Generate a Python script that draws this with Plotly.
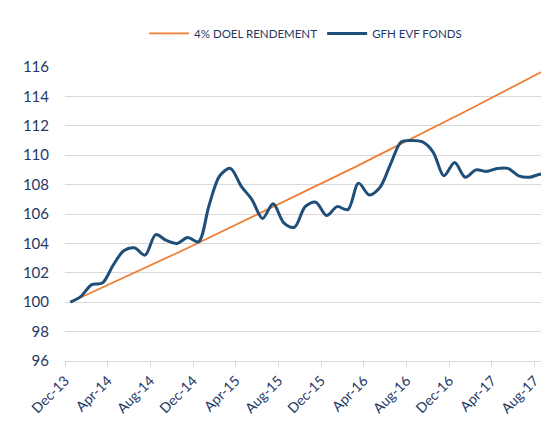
import plotly.graph_objects as go

months = ["Dec-13", "Jan-14", "Feb-14", "Mar-14", "Apr-14", "May-14", "Jun-14", "Jul-14",
          "Aug-14", "Sep-14", "Oct-14", "Nov-14", "Dec-14", "Jan-15", "Feb-15", "Mar-15",
          "Apr-15", "May-15", "Jun-15", "Jul-15", "Aug-15", "Sep-15", "Oct-15", "Nov-15",
          "Dec-15", "Jan-16", "Feb-16", "Mar-16", "Apr-16", "May-16", "Jun-16", "Jul-16",
          "Aug-16", "Sep-16", "Oct-16", "Nov-16", "Dec-16", "Jan-17", "Feb-17", "Mar-17",
          "Apr-17", "May-17", "Jun-17", "Jul-17", "Aug-17", "Sep-17"]

doel = [100.00, 100.33, 100.67, 101.00, 101.33, 101.66, 102.00, 102.34, 102.67, 103.02,
        103.35, 103.69, 104.04, 104.38, 104.72, 105.07, 105.42, 105.77, 106.12, 106.47,
        106.82, 107.17, 107.54, 107.89, 108.23, 108.59, 108.96, 109.31, 109.68, 110.04,
        110.40, 110.76, 111.14, 111.50, 111.87, 112.25, 112.60, 112.97, 113.35, 113.72,
        114.10, 114.48, 114.86, 115.23, 115.61, 116.00]

fonds = [100.0, 100.4, 101.2, 101.3, 102.5, 103.5, 103.7, 103.2, 104.6, 104.2,
         104.0, 104.4, 104.1, 106.6, 108.6, 109.1, 107.9, 107.0, 105.7, 106.7,
         105.4, 105.1, 106.5, 106.8, 105.9, 106.5, 106.3, 108.1, 107.3, 107.8,
         109.4, 110.9, 111.0, 110.9, 110.2, 108.6, 109.5, 108.5, 109.0, 108.9,
         109.1, 109.1, 108.6, 108.5, 108.7, 108.7]

y_ticks = [96, 98, 100, 102, 104, 106, 108, 110, 112, 114, 116]

x = list(range(len(months)))
navy = "#1F3864"

fig = go.Figure()
fig.add_trace(go.Scatter(x=x, y=doel, mode="lines", name="4% DOEL RENDEMENT",
                         line=dict(color="#ED7D31", width=1.75)))
fig.add_trace(go.Scatter(x=x, y=fonds, mode="lines", name="GFH EVF FONDS",
                         line=dict(color="#1F4E79", width=3, shape="spline", smoothing=0.9)))

fig.update_layout(
    width=549, height=426,
    margin=dict(l=57, r=1, t=59, b=73),
    paper_bgcolor="white", plot_bgcolor="white",
    font=dict(family="Lato, Open Sans, sans-serif", color=navy),
    showlegend=True,
    legend=dict(orientation="h", x=0.49, xanchor="center", y=1.114, yanchor="middle",
                font=dict(size=11.5, color=navy), itemwidth=40, bgcolor="rgba(0,0,0,0)"),
    xaxis=dict(
        range=[-0.5, len(months) - 0.5],
        tickmode="array",
        tickvals=[i - 0.5 for i in x[::4]],
        ticktext=months[::4],
        tickangle=-45,
        ticks="outside", ticklen=5, tickcolor="#D9D9D9",
        showgrid=False, zeroline=False,
        showline=True, linecolor="#D9D9D9", linewidth=1,
        tickfont=dict(size=14, color=navy),
    ),
    yaxis=dict(
        range=[96, 116],
        tickvals=y_ticks,
        showgrid=True, gridcolor="#D9D9D9", gridwidth=1,
        zeroline=False, showline=False,
        tickfont=dict(size=15, color=navy),
        ticklabelstandoff=15,
    ),
)

fig.write_html("out.html")
